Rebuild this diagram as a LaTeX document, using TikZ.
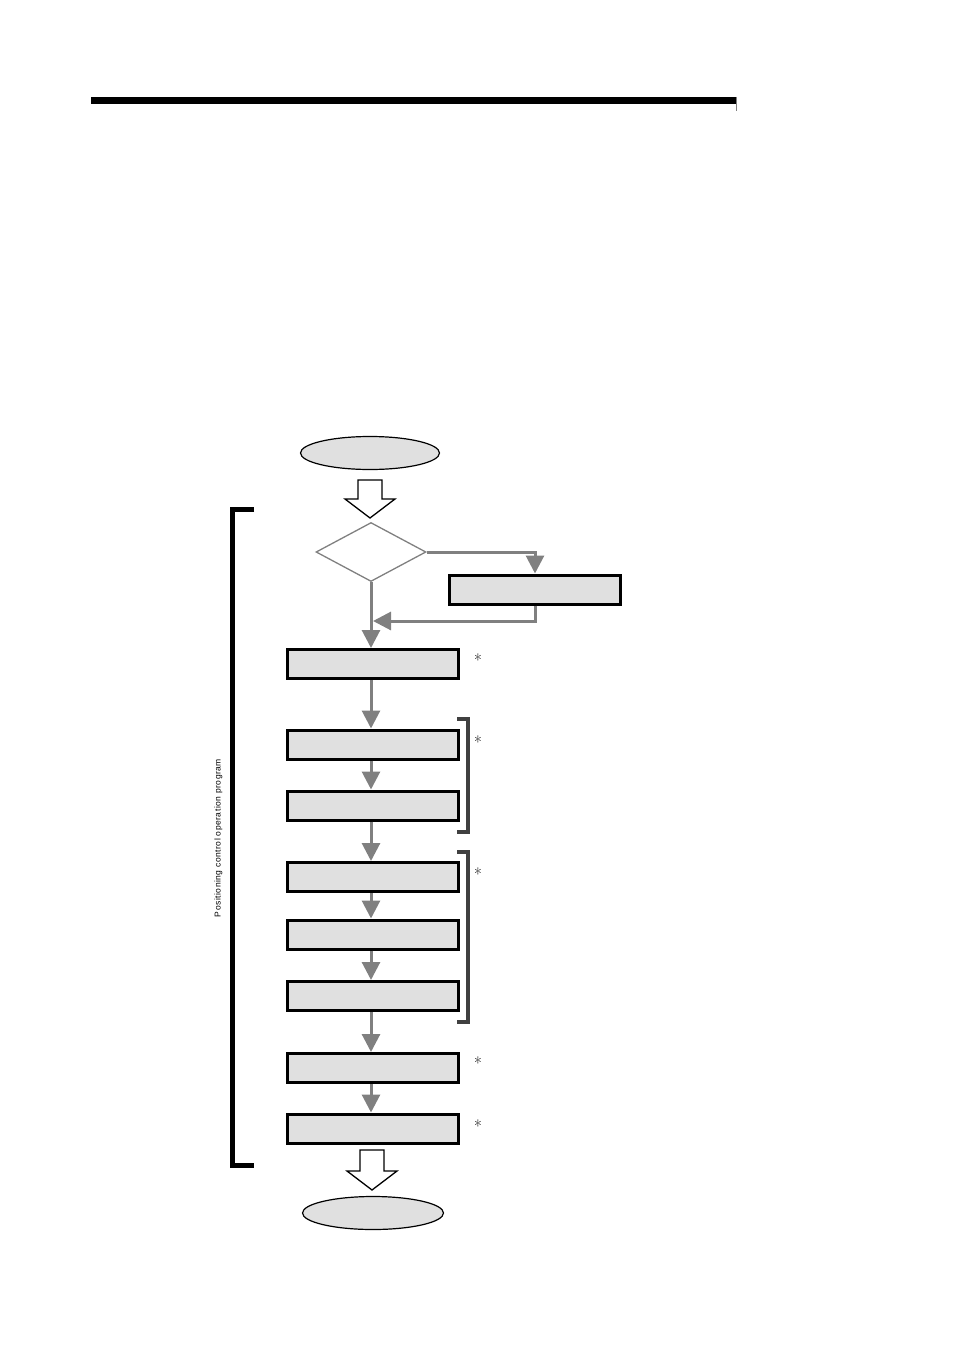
\documentclass[tikz,border=0pt]{standalone}
\usepackage{fontspec}
\newfontfamily\arialsp[LetterSpace=6]{Liberation Sans}
\usetikzlibrary{arrows.meta,shapes.geometric,calc}
\definecolor{boxgray}{HTML}{E0E0E0}
\definecolor{linegray}{HTML}{808080}
\definecolor{brgray}{HTML}{404040}
\begin{document}
\begin{tikzpicture}[x=1pt,y=-1pt,
  box/.style={draw=black,line width=3pt,fill=boxgray,minimum width=171pt,minimum height=29pt,inner sep=0pt},
  term/.style={ellipse,draw=black,line width=1.2pt,fill=boxgray,minimum width=139pt,minimum height=33pt,inner sep=0pt},
  decision/.style={diamond,draw=linegray,line width=1.3pt,fill=white,minimum width=110pt,minimum height=59pt,inner sep=0pt,aspect=1.85},
  flow/.style={draw=linegray,line width=3pt,-{Triangle[width=18pt,length=18pt]},color=linegray},
  hollow/.style={draw=black,line width=1.3pt,fill=white,line join=miter},
  brk/.style={draw=brgray,line width=4pt},
  bigbrk/.style={draw=black,line width=5pt},
  star/.style={font=\fontsize{17}{19}\selectfont,inner sep=0pt,anchor=base}]
\useasboundingbox (0,0) rectangle (954,1351);
% header rule
\fill[black] (91,97) rectangle (736,104);
\draw[linegray,line width=0.8pt] (736,97) -- (736,111);
% nodes
\node[term] (start) at (370,453) {};
\node[decision] (dia) at (371,552) {};
\node[box] (side) at (535,589.5) {};
\node[box] (b1) at (373,664) {};
\node[box] (b2) at (373,744.5) {};
\node[box] (b3) at (373,805.5) {};
\node[box] (b4) at (373,877) {};
\node[box] (b5) at (373,934.5) {};
\node[box] (b6) at (373,996) {};
\node[box] (b7) at (373,1068) {};
\node[box] (b8) at (373,1128.5) {};
\node[term,minimum width=141pt] (end) at (373,1213) {};
% hollow arrows
\coordinate (h1) at (370,518);
\draw[hollow] ($(h1)+(-12,-38)$) -- ++(24,0) -- ++(0,19) -- ++(13,0) -- (h1) -- ($(h1)+(-25,-19)$) -- ++(13,0) -- cycle;
\coordinate (h2) at (372,1190);
\draw[hollow] ($(h2)+(-12,-40)$) -- ++(24,0) -- ++(0,21) -- ++(13,0) -- (h2) -- ($(h2)+(-25,-19)$) -- ++(13,0) -- cycle;
% connectors
\coordinate (join) at (373,621);
\draw[flow] (dia.east) -| (side.north);
\draw[flow] (side.south) |- (join);
\draw[flow] (dia.south) -- (dia.south |- b1.north);
\draw[flow] (dia.south |- b1.south) -- (dia.south |- b2.north);
\draw[flow] (dia.south |- b2.south) -- (dia.south |- b3.north);
\draw[flow] (dia.south |- b3.south) -- (dia.south |- b4.north);
\draw[flow] (dia.south |- b4.south) -- (dia.south |- b5.north);
\draw[flow] (dia.south |- b5.south) -- (dia.south |- b6.north);
\draw[flow] (dia.south |- b6.south) -- (dia.south |- b7.north);
\draw[flow] (dia.south |- b7.south) -- (dia.south |- b8.north);
% small brackets
\draw[brk] (457,719) -- (468,719) -- (468,832) -- (457,832);
\draw[brk] (457,852) -- (468,852) -- (468,1022) -- (457,1022);
% big bracket
\draw[bigbrk] (254,509.5) -- (232,509.5) -- (232,1165) -- (254,1165);
\node[rotate=90,font=\arialsp\fontsize{8.5}{10}\selectfont,inner sep=0pt] (lbl) at (218.5,838) {Positioning control operation program};
% asterisks
\node[star] (s1) at (478,666) {*};
\node[star] (s2) at (478,748.5) {*};
\node[star] (s3) at (478,880.5) {*};
\node[star] (s4) at (478,1069) {*};
\node[star] (s5) at (478,1132.5) {*};
\end{tikzpicture}
\end{document}
